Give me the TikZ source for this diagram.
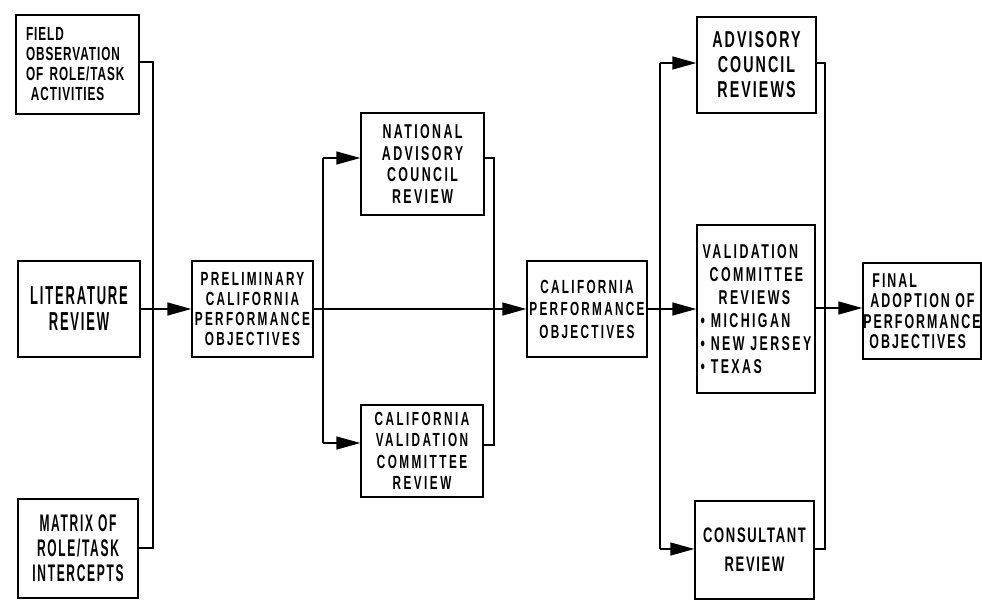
\documentclass[tikz,border=0pt]{standalone}
\usepackage{fontspec}
\setmainfont[FakeStretch=0.62,LetterSpace=12]{Liberation Sans Bold}
\newfontfamily\narrowfont[FakeStretch=0.5,LetterSpace=7]{Liberation Sans Bold}
\usetikzlibrary{arrows.meta}
\newcommand{\boxfont}[2]{\fontsize{#1}{#2}\selectfont}
\newcommand{\track}[1]{\addfontfeature{LetterSpace=#1}}
\begin{document}
\begin{tikzpicture}[x=1pt,y=-1pt,
  box/.style={draw,line width=1.4pt,inner sep=0pt,align=center,
    font=\boxfont{19}{20}},
  link/.style={line width=1.4pt},
  feed/.style={line width=1.4pt,-{Triangle[length=24pt,width=13pt]}}]
\useasboundingbox (0,0) rectangle (982,600);
% source boxes
\node[box,minimum width=123pt,minimum height=99pt,align=left,text width=103pt,
  font=\track{5}\boxfont{19}{20}] (field) at (77.5,64.5)
  {FIELD\\OBSERVATION\\OF ROLE/TASK\\\hspace*{5pt}ACTIVITIES};
\node[box,minimum width=122pt,minimum height=96pt,font=\narrowfont\boxfont{26}{26}] (lit) at (79,309)
  {LITERATURE\\REVIEW};
\node[box,minimum width=120pt,minimum height=99pt,font=\narrowfont\boxfont{24}{25}] (matrix) at (78,548.5)
  {MATRIX OF\\ROLE/TASK\\INTERCEPTS};
% preliminary objectives and the two reviews
\node[box,minimum width=121pt,minimum height=96pt] (prelim) at (252.5,309)
  {PRELIMINARY\\CALIFORNIA\\PERFORMANCE\\OBJECTIVES};
\node[box,minimum width=123pt,minimum height=102pt,font=\track{12}\boxfont{20}{21.5}] (nat) at (422.5,164)
  {NATIONAL\\ADVISORY\\COUNCIL\\REVIEW};
\node[box,minimum width=122pt,minimum height=92pt,font=\track{13}\boxfont{19}{21.5}] (calval) at (422,451)
  {CALIFORNIA\\VALIDATION\\COMMITTEE\\REVIEW};
% revised objectives and the second round of reviews
\node[box,minimum width=120pt,minimum height=96pt,font=\boxfont{19}{22.5}] (calperf) at (587,309)
  {CALIFORNIA\\PERFORMANCE\\OBJECTIVES};
\node[box,minimum width=119pt,minimum height=96pt,font=\track{9}\boxfont{23}{25}] (adv) at (756.5,65)
  {ADVISORY\\COUNCIL\\REVIEWS};
\node[box,minimum width=118pt,minimum height=168pt,align=left,
  font=\track{12}\boxfont{20}{23}] (valcom) at (756,309)
  {\hspace*{2pt}VALIDATION\\\hspace*{9pt}COMMITTEE\\\hspace*{18pt}REVIEWS\\• MICHIGAN\\• NEW JERSEY\\• TEXAS};
\node[box,minimum width=119pt,minimum height=98pt,font=\track{8}\boxfont{21}{29}] (cons) at (754.5,550)
  {CONSULTANT\\REVIEW};
\node[box,minimum width=118pt,minimum height=96pt,align=left,
  font=\track{10}\boxfont{20}{20.5}] (final) at (922,311)
  {\hspace*{9pt}FINAL\\\hspace*{7pt}ADOPTION OF\\PERFORMANCE\\\hspace*{6pt}OBJECTIVES};
% junction point where the review results rejoin
\coordinate (j4) at (825,308);
% first stage: three sources merge into the preliminary objectives
\draw[link] (field.east |- 0,62) -- (153,62) -- (153,548) -- (matrix.east |- 0,548);
\draw[feed] (lit.east) -- (prelim.west);
% second stage: review loop
\draw[feed] (prelim.east) -- (calperf.west);
\draw[link] (323,158) -- (323,443);
\draw[feed] (323,158) -- (nat.west |- 0,158);
\draw[feed] (323,443) -- (calval.west |- 0,443);
\draw[link] (nat.east |- 0,158) -- (494,158) -- (494,445) -- (calval.east |- 0,445);
% third stage: review loop
\draw[feed] (calperf.east) -- (valcom.west);
\draw[link] (660,63) -- (660,549);
\draw[feed] (660,63) -- (adv.west |- 0,63);
\draw[feed] (660,549) -- (cons.west |- 0,549);
\draw[link] (adv.east |- 0,63) -- (825,63) -- (825,549) -- (cons.east |- 0,549);
\draw[link] (valcom.east |- j4) -- (j4);
\draw[feed] (j4) -- (final.west |- j4);
\end{tikzpicture}
\end{document}
